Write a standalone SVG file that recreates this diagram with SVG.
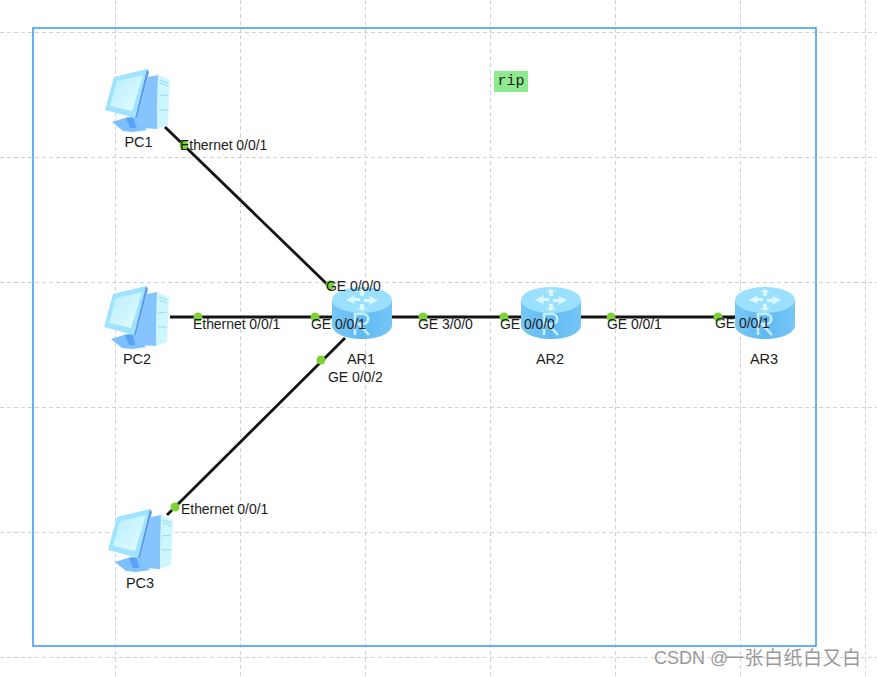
<svg xmlns="http://www.w3.org/2000/svg" width="877" height="677" viewBox="0 0 877 677">
<style>
.grid{stroke:#d2d2d2;stroke-width:1;stroke-dasharray:4 3;fill:none}
.link{stroke:#141414;stroke-width:2.8;fill:none}
.dot{fill:#7ed136}
text{font-family:"Liberation Sans",Arial,sans-serif;fill:#1c1c1c}
.port{font-size:14px;letter-spacing:-.05px}
.name{font-size:14.5px;text-anchor:middle}
</style>
<defs>
<linearGradient id="scr" x1="0" y1="0" x2="1" y2="1"><stop offset="0" stop-color="#b5eeff"/><stop offset="1" stop-color="#e6fcff"/></linearGradient>
<linearGradient id="body" x1="0" y1="0" x2="1" y2="0"><stop offset="0" stop-color="#78c8f6"/><stop offset=".5" stop-color="#62b9f2"/><stop offset="1" stop-color="#74c6f6"/></linearGradient>
<symbol id="pc" width="68" height="66" viewBox="0 0 68 66" overflow="visible">
<path d="M7 54 23 49H30L42 62 28 64 18 63Z" fill="#7cc0ff"/>
<path d="M21 50H29L31 60 25 60Z" fill="#5aa2f5"/>
<path d="M43 9 53 7 52 61 36 60 28 50 32 50Z" fill="#85c4ff"/>
<path d="M53 7 65 12 63 57 52 61Z" fill="#cdf6ff"/>
<path d="M55 12 63 15M55 15 63 18M54 28 63 27M54 42 63 42" stroke="#9ad8f5" stroke-width="1" fill="none"/>
<path d="M0 42 9 9 42 1 30 50Z" fill="#9fe4ff"/>
<path d="M42 1 44 4 32 50 30 50Z" fill="#5a9cf2"/>
<path d="M5 38 12 13 38 7 27 43Z" fill="url(#scr)"/>
</symbol>
<symbol id="router" width="60" height="52" viewBox="0 0 60 52" overflow="visible">
<path d="M0 13V38C0 46 13 52 30 52S60 46 60 38V13Z" fill="url(#body)"/>
<ellipse cx="30" cy="13" rx="30" ry="13" fill="#9be0ff"/>
<path d="M14 13 23 8 22 11 28 11 28 14 22 14 23 17ZM46 13 37 18 38 15 32 15 32 12 38 12 37 9ZM25 5 30 2 35 5 32 5 32 9 28 9 28 5ZM35 21 30 24 25 21 28 21 28 17 32 17 32 21Z" fill="#e8fbff" opacity=".85"/>
<path d="M23 48V27H31C38 27 38 37 31 37H27L37 48M27 37H31" fill="none" stroke="#c5eeff" stroke-width="2.6"/>
</symbol>
</defs>
<rect width="877" height="677" fill="#fff"/>
<g id="grid">
<path class="grid" d="M115.500 0V677M240.500 0V677M365.500 0V677M490.500 0V677M615.500 0V677M740.500 0V677M865.500 0V677M0 32.500H877M0 157.500H877M0 282.500H877M0 407.500H877M0 532.500H877M0 657.500H877"/>
</g>
<rect id="area" x="33" y="28" width="783" height="618" fill="none" stroke="#3f9ef5" stroke-width="1.6"/>
<g id="connectors">
<path class="link" d="M165 127 332 289"/>
<path class="link" d="M170 317H332"/>
<path class="link" d="M167 515 345 338"/>
<path class="link" d="M392 317H521"/>
<path class="link" d="M581 317H735"/>
</g>
<g id="PC1"><use href="#pc" x="105" y="68"/><text class="name" x="138.500" y="147">PC1</text></g>
<g id="PC2"><use href="#pc" x="104" y="285"/><text class="name" x="137" y="364">PC2</text></g>
<g id="PC3"><use href="#pc" x="108" y="508"/><text class="name" x="140" y="588">PC3</text></g>
<g id="AR1"><use href="#router" x="332" y="287"/><text class="name" x="361" y="364">AR1</text></g>
<g id="AR2"><use href="#router" x="521" y="287"/><text class="name" x="550" y="364">AR2</text></g>
<g id="AR3"><use href="#router" x="735" y="287"/><text class="name" x="764" y="364">AR3</text></g>
<g id="ports">
<circle class="dot" cx="184" cy="145" r="4.500"/>
<circle class="dot" cx="198" cy="317" r="4.500"/>
<circle class="dot" cx="330" cy="285" r="4.500"/>
<circle class="dot" cx="315" cy="317" r="4.500"/>
<circle class="dot" cx="321" cy="360" r="4.500"/>
<circle class="dot" cx="175" cy="507" r="4.500"/>
<circle class="dot" cx="423" cy="317" r="4.500"/>
<circle class="dot" cx="504" cy="317" r="4.500"/>
<circle class="dot" cx="611" cy="317" r="4.500"/>
<circle class="dot" cx="718" cy="317" r="4.500"/>
<text class="port" x="180" y="150">Ethernet 0/0/1</text>
<text class="port" x="193" y="329">Ethernet 0/0/1</text>
<text class="port" x="181" y="514">Ethernet 0/0/1</text>
<text class="port" x="326" y="291">GE 0/0/0</text>
<text class="port" x="311" y="329">GE 0/0/1</text>
<text class="port" x="328" y="382">GE 0/0/2</text>
<text class="port" x="418" y="329">GE 3/0/0</text>
<text class="port" x="500" y="329">GE 0/0/0</text>
<text class="port" x="607" y="329">GE 0/0/1</text>
<text class="port" x="715" y="328">GE 0/0/1</text>
</g>
<g id="rip">
<rect x="494" y="71" width="34" height="21" fill="#8eea8e"/>
<text x="511" y="85" font-size="15" text-anchor="middle" style="font-family:'Liberation Mono','DejaVu Sans Mono',monospace">rip</text>
</g>
<g id="watermark">
<text x="654" y="664" font-size="18" style="fill:#999">CSDN @</text>
<text x="725" y="665" font-size="19" letter-spacing=".5" style="fill:#999;font-family:'Noto Sans CJK SC',sans-serif">一张白纸白又白</text>
</g>
</svg>
